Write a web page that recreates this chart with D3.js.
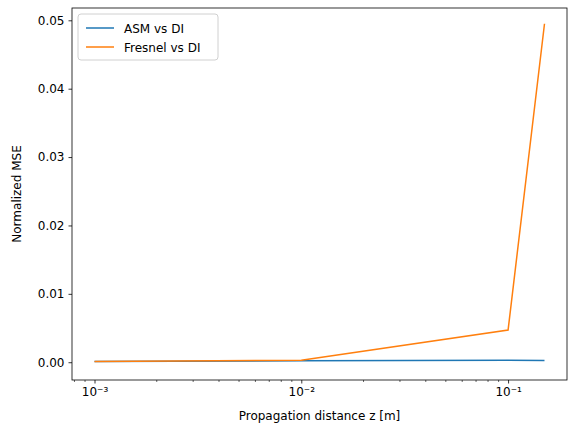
<!DOCTYPE html>
<html><head><meta charset="utf-8">
<script src="https://cdn.jsdelivr.net/npm/d3@7"></script>
<style>body{margin:0;background:#fff}text{font-family:"DejaVu Sans",sans-serif}</style>
</head><body><svg id="c" width="576" height="435"></svg>
<script>
const zValues = [0.001, 0.01, 0.1, 0.15];
const asmMse = [0.0001, 0.0002, 0.0003, 0.00025];
const fresnelMse = [0.0001, 0.0003, 0.0047, 0.0495];
const yTicks = [0, 0.01, 0.02, 0.03, 0.04, 0.05];
const seriesNames = ['ASM vs DI', 'Fresnel vs DI'];
const colors = ['#1f77b4', '#ff7f0e'];

const svg = d3.select('#c');
const L = 72, R = 567, T = 8, B = 380;
const lo = Math.log10(0.001), hi = Math.log10(0.15), pad = (hi - lo) * 0.05;
const x = d3.scaleLog().domain([Math.pow(10, lo - pad), Math.pow(10, hi + pad)]).range([L, R]);
const y = d3.scaleLinear().domain([-0.0026, 0.0518]).range([B, T]);

const minor = [];
for (let e = -4; e <= 0; e++) for (let m = 2; m <= 9; m++) {
  const v = m * Math.pow(10, e);
  if (v >= x.domain()[0] && v <= x.domain()[1]) minor.push(v);
}
const sup = {'-': '\u207b', '1': '\u00b9', '2': '\u00b2', '3': '\u00b3'};
const xa = svg.append('g').attr('transform', `translate(0,${B})`)
  .call(d3.axisBottom(x).tickValues([0.001, 0.01, 0.1]).tickSize(3.5).tickPadding(4)
    .tickFormat(d => '10' + String(Math.round(Math.log10(d))).split('').map(c => sup[c]).join('')));
xa.append('g').selectAll('line').data(minor).join('line')
  .attr('x1', d => x(d)).attr('x2', d => x(d)).attr('y2', 2).attr('stroke', '#000').attr('stroke-width', 0.6);
const ya = svg.append('g').attr('transform', `translate(${L},0)`)
  .call(d3.axisLeft(y).tickValues(yTicks).tickSize(3.5).tickPadding(4).tickFormat(d3.format('.2f')));
[xa, ya].forEach(a => { a.select('.domain').remove(); a.selectAll('text').attr('font-size', 12).attr('fill', '#000'); a.selectAll('.tick line').attr('stroke-width', 0.8); });
svg.append('rect').attr('x', L).attr('y', T).attr('width', R - L).attr('height', B - T)
  .attr('fill', 'none').attr('stroke', '#000').attr('stroke-width', 0.8);

const line = d3.line().x((d, i) => x(zValues[i])).y(d => y(d));
[asmMse, fresnelMse].forEach((s, k) => svg.append('path').datum(s).attr('d', line)
  .attr('fill', 'none').attr('stroke', colors[k]).attr('stroke-width', 1.5));

svg.append('text').attr('x', (L + R) / 2).attr('y', 420).attr('text-anchor', 'middle').attr('font-size', 12).text('Propagation distance z [m]');
svg.append('text').attr('transform', `translate(21,${(T + B) / 2}) rotate(-90)`).attr('text-anchor', 'middle').attr('font-size', 12).text('Normalized MSE');

const lg = svg.append('g').attr('transform', `translate(${L + 6},${T + 6})`);
lg.append('rect').attr('width', 140).attr('height', 46).attr('rx', 3).attr('fill', '#fff').attr('stroke', '#ccc').attr('opacity', 0.9);
seriesNames.forEach((n, k) => {
  const g = lg.append('g').attr('transform', `translate(8,${14 + k * 19})`);
  g.append('line').attr('x2', 28).attr('stroke', colors[k]).attr('stroke-width', 1.5);
  g.append('text').attr('x', 38).attr('y', 4.5).attr('font-size', 12).text(n);
});
</script></body></html>
